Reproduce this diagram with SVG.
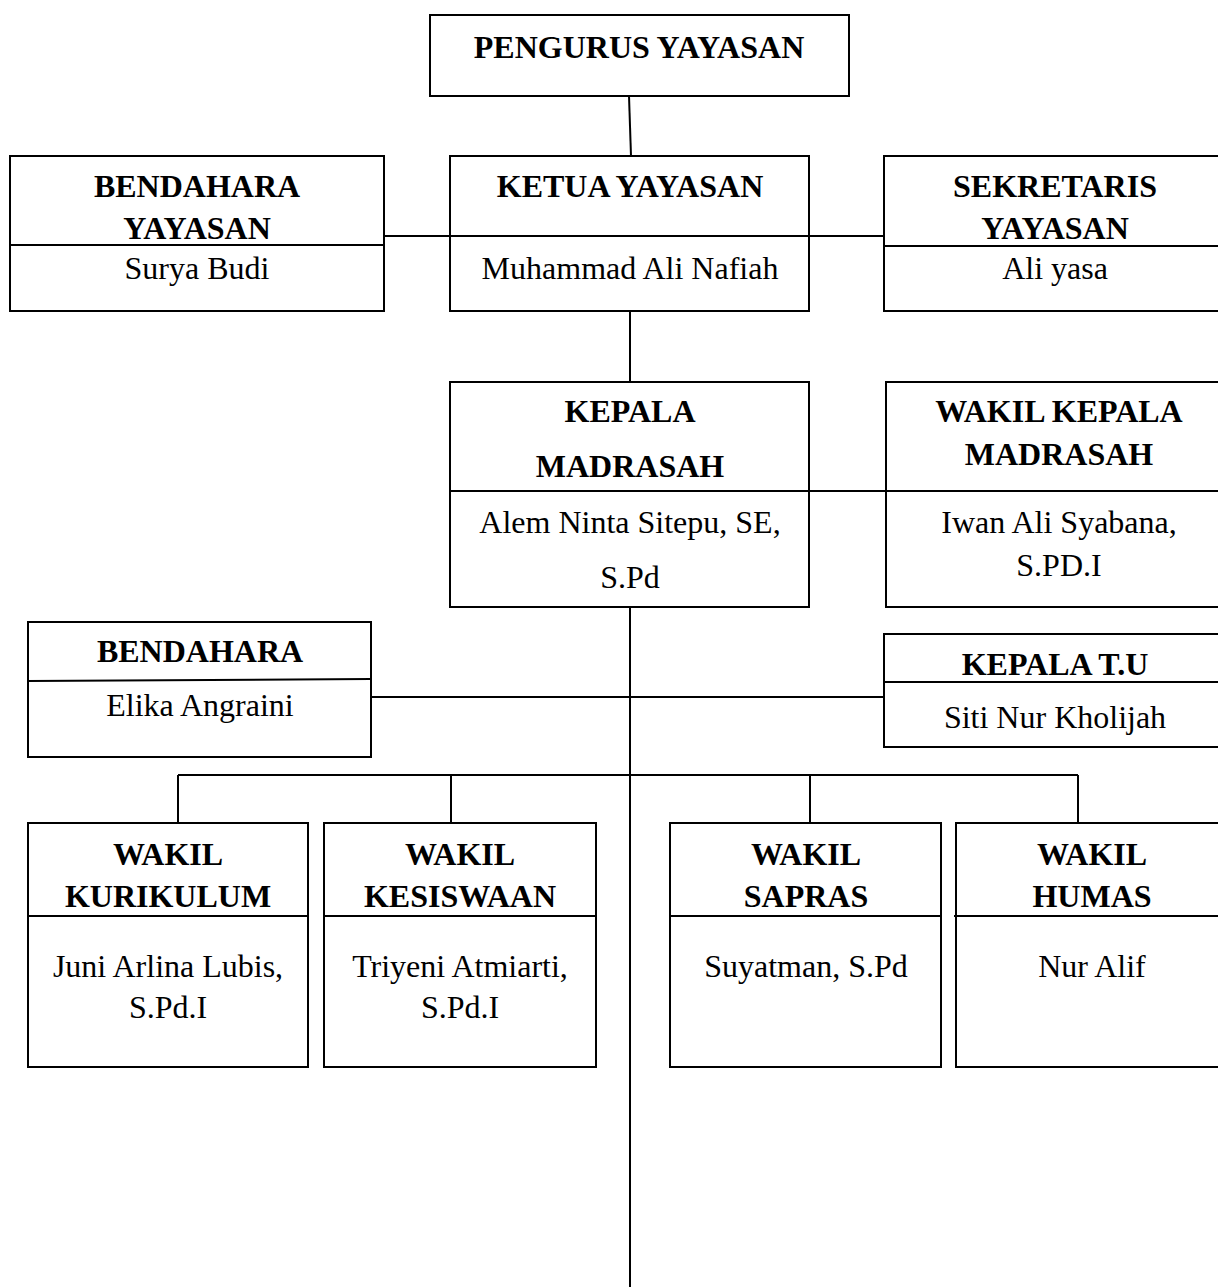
<svg xmlns="http://www.w3.org/2000/svg" width="1218" height="1288" viewBox="0 0 1218 1288">
<style>
.box{fill:#fff;stroke:#000;stroke-width:2}
.div{stroke:#000;stroke-width:2}
.c{stroke:#000;stroke-width:2;fill:none}
text{font-family:"Liberation Serif","Times New Roman",serif;font-size:32px;fill:#000;text-anchor:middle}
.b{font-weight:bold}
</style>
<rect width="1218" height="1288" fill="#fff"/>
<g id="connectors">
<line class="c" x1="629" y1="96" x2="631" y2="156"/>
<line class="c" x1="384" y1="236" x2="884" y2="236"/>
<line class="c" x1="630" y1="311" x2="630" y2="382"/>
<line class="c" x1="809" y1="491" x2="886" y2="491"/>
<line class="c" x1="630" y1="607" x2="630" y2="1287"/>
<line class="c" x1="371" y1="697" x2="884" y2="697"/>
<line class="c" x1="178" y1="775" x2="1078" y2="775"/>
<line class="c" x1="178" y1="775" x2="178" y2="823"/>
<line class="c" x1="451" y1="775" x2="451" y2="823"/>
<line class="c" x1="810" y1="775" x2="810" y2="823"/>
<line class="c" x1="1078" y1="775" x2="1078" y2="823"/>
</g>
<g id="pengurus">
<rect class="box" x="430" y="15" width="419" height="81"/>
<text class="b" x="639" y="58">PENGURUS YAYASAN</text>
</g>
<g id="bendahara-yayasan">
<rect class="box" x="10" y="156" width="374" height="155"/>
<line class="div" x1="10" y1="245" x2="384" y2="245"/>
<text class="b" x="197" y="197">BENDAHARA</text>
<text class="b" x="197" y="239">YAYASAN</text>
<text x="197" y="279">Surya Budi</text>
</g>
<g id="ketua">
<rect class="box" x="450" y="156" width="359" height="155"/>
<line class="div" x1="450" y1="236" x2="809" y2="236"/>
<text class="b" x="630" y="197">KETUA YAYASAN</text>
<text x="630" y="279">Muhammad Ali Nafiah</text>
</g>
<g id="sekretaris">
<rect class="box" x="884" y="156" width="342" height="155"/>
<line class="div" x1="884" y1="246" x2="1226" y2="246"/>
<text class="b" x="1055" y="197">SEKRETARIS</text>
<text class="b" x="1055" y="239">YAYASAN</text>
<text x="1055" y="279">Ali yasa</text>
</g>
<g id="kepala-madrasah">
<rect class="box" x="450" y="382" width="359" height="225"/>
<line class="div" x1="450" y1="491" x2="809" y2="491"/>
<text class="b" x="630" y="422">KEPALA</text>
<text class="b" x="630" y="477">MADRASAH</text>
<text x="630" y="533">Alem Ninta Sitepu, SE,</text>
<text x="630" y="588">S.Pd</text>
</g>
<g id="wakil-kepala">
<rect class="box" x="886" y="382" width="348" height="225"/>
<line class="div" x1="886" y1="491" x2="1234" y2="491"/>
<text class="b" x="1059" y="422">WAKIL KEPALA</text>
<text class="b" x="1059" y="465">MADRASAH</text>
<text x="1059" y="533">Iwan Ali Syabana,</text>
<text x="1059" y="576">S.PD.I</text>
</g>
<g id="bendahara">
<rect class="box" x="28" y="622" width="343" height="135"/>
<line class="div" x1="28" y1="681" x2="371" y2="679"/>
<text class="b" x="200" y="662">BENDAHARA</text>
<text x="200" y="716">Elika Angraini</text>
</g>
<g id="kepala-tu">
<rect class="box" x="884" y="634" width="342" height="113"/>
<line class="div" x1="884" y1="682" x2="1226" y2="682"/>
<text class="b" x="1055" y="675">KEPALA T.U</text>
<text x="1055" y="728">Siti Nur Kholijah</text>
</g>
<g id="wakil-kurikulum">
<rect class="box" x="28" y="823" width="280" height="244"/>
<line class="div" x1="28" y1="916" x2="308" y2="916"/>
<text class="b" x="168" y="865">WAKIL</text>
<text class="b" x="168" y="907">KURIKULUM</text>
<text x="168" y="977">Juni Arlina Lubis,</text>
<text x="168" y="1018">S.Pd.I</text>
</g>
<g id="wakil-kesiswaan">
<rect class="box" x="324" y="823" width="272" height="244"/>
<line class="div" x1="324" y1="916" x2="596" y2="916"/>
<text class="b" x="460" y="865">WAKIL</text>
<text class="b" x="460" y="907">KESISWAAN</text>
<text x="460" y="977">Triyeni Atmiarti,</text>
<text x="460" y="1018">S.Pd.I</text>
</g>
<g id="wakil-sapras">
<rect class="box" x="670" y="823" width="271" height="244"/>
<line class="div" x1="670" y1="916" x2="941" y2="916"/>
<text class="b" x="806" y="865">WAKIL</text>
<text class="b" x="806" y="907">SAPRAS</text>
<text x="806" y="977">Suyatman, S.Pd</text>
</g>
<g id="wakil-humas">
<rect class="box" x="956" y="823" width="272" height="244"/>
<line class="div" x1="954" y1="916" x2="1228" y2="916"/>
<text class="b" x="1092" y="865">WAKIL</text>
<text class="b" x="1092" y="907">HUMAS</text>
<text x="1092" y="977">Nur Alif</text>
</g>
</svg>
